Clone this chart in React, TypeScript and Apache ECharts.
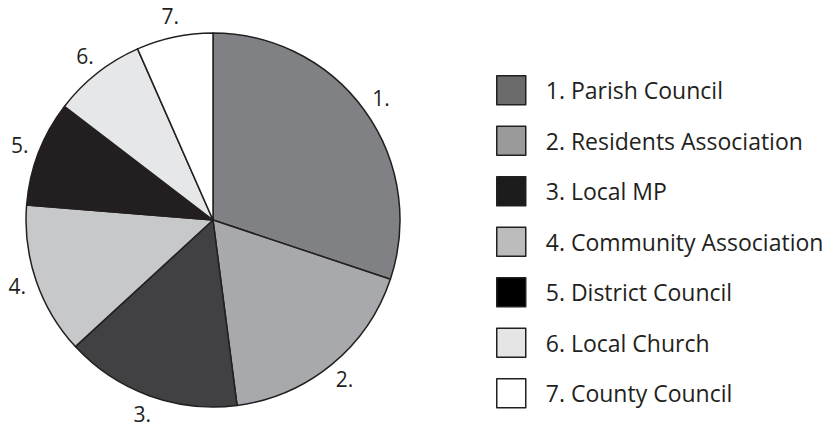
import React, { useEffect, useRef } from "react";
import * as echarts from "echarts";

const categories = [
  "Parish Council",
  "Residents Association",
  "Local MP",
  "Community Association",
  "District Council",
  "Local Church",
  "County Council",
];
const values = [30.1, 17.8, 15.2, 13.1, 9.1, 8.0, 6.6];
const sliceColors = ["#808184", "#a7a9ac", "#414042", "#c7c8ca", "#231f20", "#e6e7e8", "#ffffff"];
const legendColors = ["#6b6b6b", "#9a9a9a", "#1c1c1c", "#bcbcbc", "#000000", "#e5e5e5", "#ffffff"];

const FONT = "'Open Sans', 'Noto Sans', sans-serif";
const INK = "#231f20";

export default function App() {
  const ref = useRef<HTMLDivElement>(null);
  useEffect(() => {
    if (!ref.current) return;
    const chart = echarts.init(ref.current, null, { renderer: "svg" });
    const names = categories.map((c, i) => `${i + 1}. ${c}`);
    const data = names.map((n, i) => ({
      name: n,
      value: values[i],
      itemStyle: { color: sliceColors[i] },
    }));
    chart.setOption({
      animation: false,
      backgroundColor: "#ffffff",
      legend: {
        orient: "vertical",
        left: 491,
        top: 70,
        itemWidth: 29,
        itemHeight: 29,
        itemGap: 20,
        icon: "rect",
        selectedMode: false,
        textStyle: {
          fontFamily: FONT,
          fontSize: 23,
          lineHeight: 26,
          color: INK,
          padding: [0, 0, 0, 15],
        },
        data: names.map((n, i) => ({
          name: n,
          itemStyle: { color: legendColors[i], borderColor: INK, borderWidth: 1.5 },
        })),
      },
      series: [
        {
          type: "pie",
          center: [213, 220],
          radius: 187,
          startAngle: 90,
          clockwise: true,
          silent: true,
          label: { show: false },
          labelLine: { show: false },
          itemStyle: { borderColor: INK, borderWidth: 1.5 },
          data,
        },
        {
          type: "pie",
          center: [213, 219],
          radius: [195, 213],
          startAngle: 90,
          clockwise: true,
          silent: true,
          itemStyle: { color: "transparent", borderWidth: 0 },
          label: {
            show: true,
            position: "inside",
            formatter: (p: any) => `${p.dataIndex + 1}.`,
            fontFamily: FONT,
            fontSize: 21,
            lineHeight: 16,
            color: INK,
          },
          labelLine: { show: false },
          data: names.map((n, i) => ({ name: n, value: values[i] })),
        },
      ],
    });
    return () => chart.dispose();
  }, []);
  return (
    <div
      ref={ref}
      style={{ position: "fixed", left: 0, top: 0, width: 832, height: 429, background: "#fff" }}
    />
  );
}
